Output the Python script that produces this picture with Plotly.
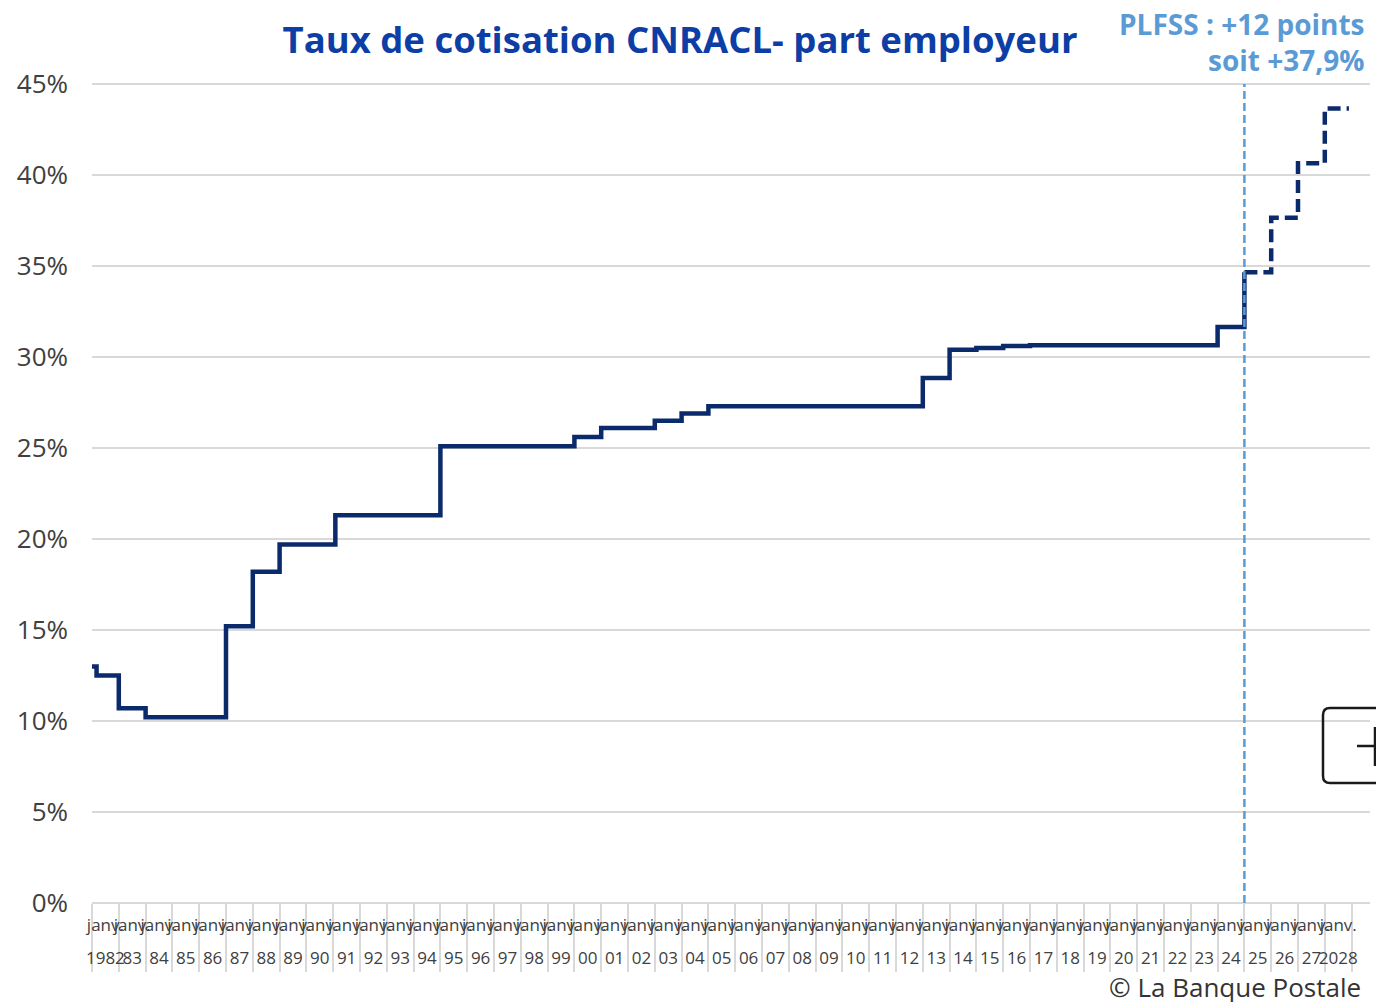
import plotly.graph_objects as go

# ---------------- data ----------------
years = list(range(1982, 2029))
year_labels = ["1982", "83", "84", "85", "86", "87", "88", "89", "90", "91", "92", "93",
               "94", "95", "96", "97", "98", "99", "00", "01", "02", "03", "04", "05",
               "06", "07", "08", "09", "10", "11", "12", "13", "14", "15", "16", "17",
               "18", "19", "20", "21", "22", "23", "24", "25", "26", "27", "2028"]
month_label = "janv."

# historical employer contribution rate (%), change dates as fractional years
hist_dates = [1982.0, 1982.17, 1983.0, 1984.0, 1987.0, 1988.0, 1989.0, 1991.08, 1995.0,
              2000.0, 2001.0, 2003.0, 2004.0, 2005.0, 2013.0, 2014.0, 2015.0, 2016.0,
              2017.0, 2024.0, 2025.0]
hist_rates = [13.0, 12.5, 10.7, 10.2, 15.2, 18.2, 19.7, 21.3, 25.1,
              25.6, 26.1, 26.5, 26.9, 27.3, 28.85, 30.4, 30.5, 30.6,
              30.65, 31.65, 34.65]

# PLFSS projected path
plfss_dates = [2025.0, 2026.0, 2027.0, 2028.0, 2028.9]
plfss_rates = [34.65, 37.65, 40.65, 43.65, 43.65]
plfss_start = 2025.0

y_ticks = [0, 5, 10, 15, 20, 25, 30, 35, 40, 45]
y_tick_labels = ["0%", "5%", "10%", "15%", "20%", "25%", "30%", "35%", "40%", "45%"]

# ---------------- layout geometry ----------------
W, H = 1376, 1002
L, R, T, B = 92, 6, 80, 99
PW, PH = W - L - R, H - T - B
px_per_year = 26.8
x_range = [1982, 1982 + PW / px_per_year]
y_range = [0, PH / 18.2]


def pxx(p):
    return (p - L) / PW


def pxy(p):
    return (H - B - p) / PH


NAVY = "#0b2a6b"
LIGHT = "#5b9bd5"
GRID = "#d9d9d9"
TXT = "#404040"
FONT = "Open Sans"

fig = go.Figure()

fig.add_trace(go.Scatter(
    x=hist_dates, y=hist_rates, mode="lines",
    line=dict(color=NAVY, width=4.5, shape="hv"),
    hoverinfo="skip", showlegend=False))

fig.add_trace(go.Scatter(
    x=plfss_dates, y=plfss_rates, mode="lines",
    line=dict(color=NAVY, width=4.5, shape="hv", dash="13px,6px"),
    hoverinfo="skip", showlegend=False))

# invisible trace so the second (year) axis is drawn
fig.add_trace(go.Scatter(x=[years[0]], y=[None], xaxis="x2", mode="lines",
                         hoverinfo="skip", showlegend=False))

# PLFSS vertical marker
fig.add_shape(type="line", x0=plfss_start, x1=plfss_start, y0=0, y1=45,
              xref="x", yref="y", line=dict(color=LIGHT, width=2.5, dash="8px,4px"))

tick_centers = [y + 0.5 for y in years]
minor_vals = years + [years[-1] + 1]

fig.update_layout(
    width=W, height=H,
    margin=dict(l=L, r=R, t=T, b=B),
    paper_bgcolor="white", plot_bgcolor="white",
    title=dict(text="<b>Taux de cotisation CNRACL- part employeur</b>",
               x=680 / W, xanchor="center", xref="container",
               y=1 - 40 / H, yanchor="middle", yref="container",
               font=dict(family=FONT, size=36.5, color="#0c3ea6")),
    xaxis=dict(range=x_range, tickmode="array", tickvals=tick_centers,
               ticktext=[month_label] * len(years), tickangle=0,
               ticks="", showgrid=False, zeroline=False, showline=False,
               ticklabelstandoff=10,
               tickfont=dict(family=FONT, size=17, color=TXT),
               minor=dict(tickmode="array", tickvals=minor_vals, ticks="outside",
                          ticklen=68, tickwidth=1.5, tickcolor=GRID, showgrid=False)),
    xaxis2=dict(overlaying="x", matches="x", anchor="y", side="bottom",
                tickmode="array", tickvals=tick_centers, ticktext=year_labels,
                tickangle=0, ticks="", showgrid=False, zeroline=False, showline=False,
                ticklabelstandoff=43,
                tickfont=dict(family=FONT, size=17, color=TXT)),
    yaxis=dict(range=y_range, tickmode="array", tickvals=y_ticks, ticktext=y_tick_labels,
               showgrid=True, gridcolor=GRID, gridwidth=1.5,
               zeroline=True, zerolinecolor=GRID, zerolinewidth=1.5,
               showline=False, ticks="", ticklabelstandoff=23,
               tickfont=dict(family=FONT, size=26, color=TXT)),
)

fig.add_annotation(text="<b>PLFSS : +12 points<br>soit +37,9%</b>",
                   xref="paper", yref="paper", x=pxx(1367), y=pxy(42),
                   xanchor="right", yanchor="middle", align="right", showarrow=False,
                   font=dict(family=FONT, size=28, color=LIGHT))

fig.add_annotation(text="© La Banque Postale",
                   xref="paper", yref="paper", x=pxx(1363), y=pxy(987),
                   xanchor="right", yanchor="middle", showarrow=False,
                   font=dict(family=FONT, size=26, color="#333333"))

# cropped rounded box with a "+" at the right edge
bx0, by0, by1, r = pxx(1323), pxy(708), pxy(783), 7
path = (f"M {pxx(1400)} {by0} L {pxx(1323 + r)} {by0} "
        f"Q {bx0} {by0} {bx0} {pxy(708 + r)} "
        f"L {bx0} {pxy(783 - r)} Q {bx0} {by1} {pxx(1323 + r)} {by1} "
        f"L {pxx(1400)} {by1}")
fig.add_shape(type="path", path=path, xref="paper", yref="paper",
              line=dict(color="#1a1a1a", width=2.5))
fig.add_shape(type="line", xref="paper", yref="paper",
              x0=pxx(1357), x1=pxx(1395), y0=pxy(746), y1=pxy(746),
              line=dict(color="#1a1a1a", width=2.5))
fig.add_shape(type="line", xref="paper", yref="paper",
              x0=pxx(1375), x1=pxx(1375), y0=pxy(727), y1=pxy(766),
              line=dict(color="#1a1a1a", width=2.5))

fig.write_html("out.html", config={"displayModeBar": False},
               post_script="document.body.style.margin='0';"
                           "document.body.style.overflow='hidden';")
